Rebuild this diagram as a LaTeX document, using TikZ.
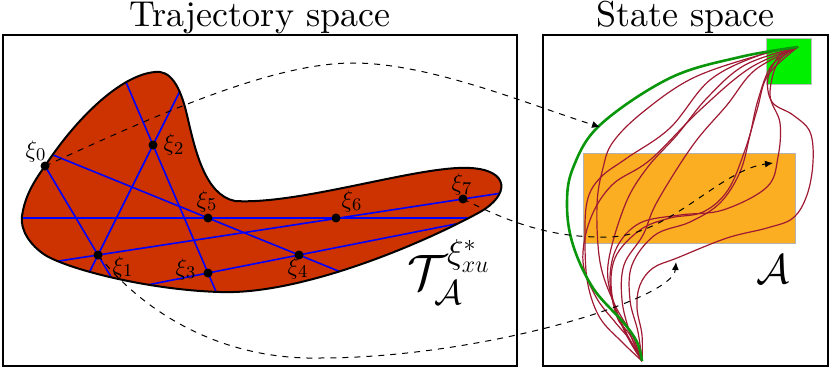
\documentclass[tikz,border=0pt]{standalone}
\usepackage{amsmath}
\usetikzlibrary{arrows.meta, positioning, calc}
\definecolor{blobred}{RGB}{204, 51, 0}
\definecolor{setorange}{RGB}{251, 174, 34}
\definecolor{goalgreen}{RGB}{0, 240, 0}
\definecolor{optgreen}{RGB}{10, 150, 10}
\definecolor{trajred}{RGB}{160, 25, 50}
\newcommand{\blobshape}{(22,216) .. controls (25,195) and (35,180) .. (45,166)
    .. controls (75,120) and (120,75) .. (155,72)
    .. controls (170,70) and (180,85) .. (187,115)
    .. controls (195,150) and (205,195) .. (235,201)
    .. controls (300,205) and (420,165) .. (470,168)
    .. controls (510,170) and (510,195) .. (480,212)
    .. controls (420,245) and (300,295) .. (220,292)
    .. controls (150,290) and (70,270) .. (45,255)
    .. controls (30,245) and (20,230) .. (22,216) -- cycle}

\begin{document}
\begin{tikzpicture}[
        x=0.5pt, y=-0.5pt,
        frame/.style={draw, thick, inner sep=0pt, outer sep=0pt},
        title/.style={inner sep=0pt},
        pt/.style={circle, fill=black, inner sep=0pt, minimum size=4.5pt},
        xilab/.style={font=\fontsize{12.5}{15}\selectfont, inner sep=0pt},
        cut/.style={blue, line width=0.8pt},
        link/.style={dashed, line width=0.5pt, -{Latex[length=4pt, width=3.5pt]}},
        traj/.style={trajred, line width=0.6pt},
    ]
    \useasboundingbox (0,0) rectangle (830,369);

    \node[frame, minimum width=257pt, minimum height=165.5pt] (trajbox) at (260,200.5) {};
    \node[frame, minimum width=142.5pt, minimum height=165.5pt] (statebox) at (685.5,200.5) {};
    \node[title, above=0.5pt of trajbox] (trajtitle) {\scalebox{1.8}{Trajectory space}};
    \node[title, above=0.5pt of statebox] (statetitle) {\scalebox{1.8}{State space}};

    % sample points
    \coordinate (x0) at (45,166);
    \coordinate (x1) at (98,255);
    \coordinate (x2) at (153,145);
    \coordinate (x3) at (208,273);
    \coordinate (x4) at (299,255);
    \coordinate (x5) at (208,218);
    \coordinate (x6) at (336,218);
    \coordinate (x7) at (463,199);

    \fill[blobred] \blobshape;
    \begin{scope}
        \clip \blobshape;
        \draw[cut] ($(x0)!-1!(x1)$) -- ($(x0)!2!(x1)$);
        \draw[cut] ($(x2)!-2!(x3)$) -- ($(x2)!2!(x3)$);
        \draw[cut] ($(x2)!-2!(x1)$) -- ($(x2)!2!(x1)$);
        \draw[cut] ($(x5)!-3!(x4)$) -- ($(x5)!3!(x4)$);
        \draw[cut] ($(x5)!-2!(x6)$) -- ($(x5)!3!(x6)$);
        \draw[cut] ($(x1)!-1!(x7)$) -- ($(x1)!2!(x7)$);
        \draw[cut] ($(x3)!-2!(x4)$) -- ($(x3)!4!(x4)$);
    \end{scope}
    \draw[line width=1pt] \blobshape;

    \node[font=\fontsize{24}{28}\selectfont] (tset) at (449,272) {$\mathcal{T}_{\mathcal{A}}^{\xi^*_{xu}}$};

    % state space
    \fill[setorange, draw=gray!60, line width=0.4pt] (583,153) rectangle (795,243);
    \fill[goalgreen, draw=gray!50, line width=0.4pt] (766,38) rectangle (811,84);
    \node[font=\fontsize{20}{24}\selectfont] (aset) at (773,269) {$\mathcal{A}$};

    \draw[traj] plot[smooth, tension=0.6] coordinates {(642,361) (642,335) (637,308) (640,285) (653,268) (677,258) (727,238) (767,228) (793,218) (807,195) (813,162) (810,132) (793,115) (772,102) (768,78) (780,55) (798,47)};
    \draw[traj] plot[smooth, tension=0.6] coordinates {(642,361) (630,335) (617,317) (610,280) (617,247) (640,223) (680,215) (723,210) (767,187) (778,157) (780,123) (770,95) (778,62) (798,47)};
    \draw[traj] plot[smooth, tension=0.6] coordinates {(642,361) (625,330) (612,295) (615,258) (640,230) (670,218) (703,212) (728,190) (745,150) (757,110) (768,75) (798,47)};
    \draw[traj] plot[smooth, tension=0.6] coordinates {(642,361) (630,333) (622,300) (624,265) (643,235) (657,202) (693,145) (727,105) (755,70) (798,47)};
    \draw[traj] plot[smooth, tension=0.6] coordinates {(642,361) (628,338) (614,305) (608,265) (625,205) (647,168) (677,135) (707,98) (745,65) (798,47)};
    \draw[traj] plot[smooth, tension=0.6] coordinates {(642,361) (622,342) (600,318) (588,285) (585,245) (587,202) (600,178) (627,158) (670,128) (710,80) (760,55) (798,47)};
    \draw[traj] plot[smooth, tension=0.6] coordinates {(642,361) (632,335) (614,303) (600,262) (597,205) (603,168) (613,142) (643,112) (693,78) (760,55) (798,47)};
    \draw[traj] plot[smooth, tension=0.6] coordinates {(642,361) (630,340) (615,322) (596,297) (583,262) (590,220) (612,185) (650,160) (700,110) (750,68) (798,47)};
    \draw[traj] plot[smooth, tension=0.6] coordinates {(642,361) (638,332) (630,300) (632,265) (655,235) (690,222) (720,203) (740,172) (750,135) (758,100) (772,65) (798,47)};
    \draw[optgreen, line width=1.3pt] plot[smooth, tension=0.6] coordinates {(642,361) (637,342) (623,322) (593,288) (573,245) (567,205) (573,168) (600,125) (670,78) (740,57) (798,47)};

    % maps from trajectory space to state space
    \coordinate (tipA) at (600,127);
    \coordinate (tipB) at (773,163);
    \coordinate (tipC) at (676,262);
    \draw[link] (x0) .. controls (150,118) and (270,63) .. (353,63) .. controls (430,63) and (530,105) .. (tipA);
    \draw[link] (x7) .. controls (520,228) and (560,238) .. (610,237) .. controls (670,235) and (720,170) .. (tipB);
    \draw[link] (x1) .. controls (150,320) and (230,360) .. (320,358) .. controls (480,358) and (673,300) .. (tipC);

    \node[pt] (p0) at (x0) {};
    \node[pt] (p1) at (x1) {};
    \node[pt] (p2) at (x2) {};
    \node[pt] (p3) at (x3) {};
    \node[pt] (p4) at (x4) {};
    \node[pt] (p5) at (x5) {};
    \node[pt] (p6) at (x6) {};
    \node[pt] (p7) at (x7) {};
    \node[xilab] (l0) at (36,151) {$\xi_0$};
    \node[xilab] (l1) at (123,267) {$\xi_1$};
    \node[xilab] (l2) at (174,145) {$\xi_2$};
    \node[xilab] (l3) at (186,269) {$\xi_3$};
    \node[xilab] (l4) at (298,268) {$\xi_4$};
    \node[xilab] (l5) at (207,201) {$\xi_5$};
    \node[xilab] (l6) at (352,201) {$\xi_6$};
    \node[xilab] (l7) at (462,185) {$\xi_7$};
\end{tikzpicture}
\end{document}
